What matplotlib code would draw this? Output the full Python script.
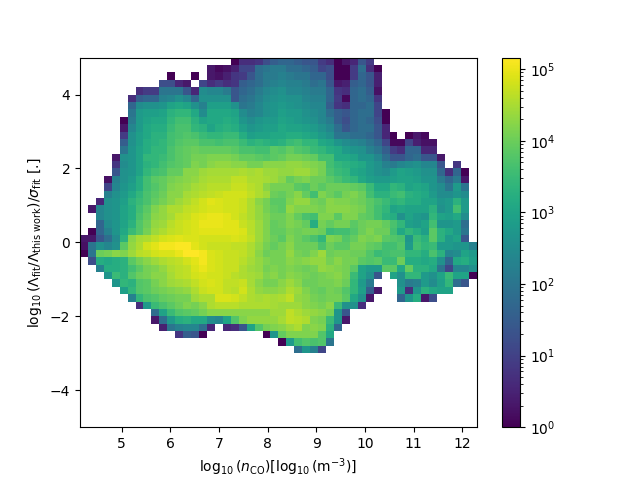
import numpy as np
import matplotlib
matplotlib.use("Agg")
import matplotlib.pyplot as plt
from matplotlib.colors import LogNorm

# Values are log10(count) in tenths; _ marks an empty bin. Rows run from the top of the plot down.
_ = -1
X_RANGE = (4.146, 12.30)
Y_RANGE = (-5.0, 5.0)
N_BINS = 50
COUNT_MAX = 1.45e5
x_ticks = [5, 6, 7, 8, 9, 10, 11, 12]
y_ticks = [-4, -2, 0, 2, 4]
# colour-reading calibration of the estimates (read level -> corrected level)
read_levels = [0, 8, 15, 20, 30, 40, 46, 52]
true_levels = [0, 9, 20, 26, 36, 44, 48, 52]

row_starts = [19,16,11,10,7,6,6,6,5,5,5,5,5,4,4,4,3,3,3,2,1,2,2,1,0,0,0,1,2,3,4,5,6,7,9,9,10,12,25,27]
row_00 = [0,6,6,7,10,12,13,13,12,11,11,8,6,0,3,5,11,8]
row_01 = [3,1,2,4,9,9,14,15,16,16,14,14,13,12,9,10,0,0,8,14,6,0]
row_02 = [0,_,_,0,_,3,2,4,7,8,11,14,16,16,17,16,15,15,13,13,10,0,0,8,13,11,4]
row_03 = [10,10,5,3,_,9,6,8,6,7,12,13,14,16,17,18,17,17,16,14,15,11,3,4,12,13,11,4]
row_04 = [6,8,8,15,15,15,11,5,19,18,18,16,11,13,14,16,18,19,20,18,18,17,16,16,13,7,6,13,14,12,2]
row_05 = [6,12,13,13,17,18,20,18,13,20,20,20,20,11,14,15,17,19,20,21,20,20,18,17,17,13,8,1,13,14,13,7]
row_06 = [13,19,20,20,21,24,25,24,20,17,23,23,23,20,15,16,18,20,21,22,21,20,19,18,18,12,7,6,13,13,14,9]
row_07 = [15,22,23,23,24,27,28,28,25,19,25,25,25,24,19,17,18,20,21,23,22,22,20,19,18,14,12,11,13,14,14,9,0]
row_08 = [0,16,22,24,25,25,28,30,30,27,24,25,25,26,25,21,19,21,22,22,24,23,22,21,20,18,16,12,10,13,14,13,10,0]
row_09 = [3,18,22,25,26,26,29,31,31,28,27,24,26,27,26,23,21,22,23,23,25,24,24,23,22,20,18,14,11,13,14,14,11,5]
row_10 = [8,20,23,25,27,27,30,31,32,31,29,28,28,29,29,26,23,24,24,25,25,26,26,25,24,22,20,15,15,14,14,13,11,5,0,_,0,3,1]
row_11 = [12,20,23,26,27,28,30,32,33,33,31,31,30,31,31,29,27,28,27,26,27,29,30,28,28,25,24,21,19,18,17,15,13,9,1,1,9,4,2,2]
row_12 = [15,21,24,26,28,28,31,33,34,35,34,34,34,34,33,31,31,30,30,33,32,34,32,31,29,28,26,25,22,21,20,17,15,12,8,6,13,13,5,5]
row_13 = [3,20,21,24,28,28,29,31,33,34,36,36,37,37,37,36,34,34,33,32,33,34,36,36,35,34,30,30,25,25,24,21,21,18,14,11,11,13,14,11,11,3]
row_14 = [7,19,21,24,27,28,30,32,33,34,37,36,38,39,39,38,38,36,36,38,38,38,39,39,38,37,36,30,28,27,26,25,22,20,17,16,18,19,20,18,18,11,_,7]
row_15 = [11,20,21,24,28,30,31,34,34,38,38,40,41,41,41,41,42,41,42,40,40,39,39,40,40,38,36,31,29,28,25,24,22,20,19,22,24,23,22,20,20,13,6,13,0]
row_16 = [2,17,20,22,26,30,33,34,36,37,38,39,41,42,42,42,44,44,42,42,41,40,38,34,36,37,35,35,33,31,29,28,25,23,22,22,23,24,24,23,21,21,16,13,16,3]
row_17 = [9,18,21,23,26,30,32,34,37,38,39,41,42,43,43,43,45,45,43,42,38,36,36,36,33,32,35,33,35,35,35,34,33,29,25,25,28,27,24,25,24,21,19,15,22,15]
row_18 = [17,20,22,25,28,31,33,35,38,38,41,42,43,44,45,46,46,46,44,42,40,35,34,36,38,34,30,37,35,33,36,37,35,30,27,27,29,30,27,26,25,22,19,19,21,19]
row_19 = [5,20,21,23,27,29,31,34,36,38,40,42,44,46,48,47,46,46,45,42,38,36,33,33,37,39,39,36,35,38,37,37,36,35,33,31,29,27,28,26,26,24,24,21,22,27,22]
row_20 = [3,18,20,21,24,26,30,33,37,39,42,42,44,45,46,47,47,46,46,45,42,39,36,34,33,39,37,37,37,36,38,38,38,37,36,33,30,28,24,25,24,24,24,27,20,22,30,22]
row_21 = [18,20,21,24,26,31,34,38,39,41,44,45,47,48,49,49,48,46,44,42,39,37,35,35,37,34,31,30,37,37,33,37,37,34,33,30,27,26,20,24,22,21,28,24,23,25,19]
row_22 = [13,19,21,24,27,32,35,39,40,43,45,46,47,49,49,49,48,48,45,43,40,37,34,35,37,36,34,26,36,34,36,36,33,35,36,36,34,31,28,23,22,24,30,21,21,22,14]
row_23 = [0,13,17,21,25,29,32,36,40,42,44,45,46,47,48,48,48,48,48,47,43,40,37,34,34,36,35,36,36,35,29,30,30,32,35,37,35,35,30,25,28,26,23,33,27,25,22,15]
row_24 = [3,3,11,14,19,27,38,41,42,44,46,47,48,47,47,46,46,46,46,47,46,44,40,37,35,33,37,35,33,31,28,37,36,32,34,37,36,37,33,32,31,21,29,27,33,27,22,24,11]
row_25 = [2,15,20,18,20,33,39,42,46,48,50,50,51,51,48,46,45,45,45,44,44,42,39,36,34,36,38,35,35,35,31,35,33,33,36,36,34,33,30,30,32,22,30,28,29,22,22,21,21,17]
row_26 = [0,15,35,36,38,37,40,43,44,46,47,47,49,52,52,50,47,46,45,45,44,42,38,35,36,36,39,36,35,37,40,35,36,36,35,35,32,29,30,31,31,28,28,26,31,27,18,19,24,22]
row_27 = [10,26,25,26,27,33,36,38,40,42,43,44,46,48,50,47,46,45,45,43,41,39,37,36,36,38,37,38,39,39,36,38,36,36,33,32,33,29,29,35,26,26,25,26,20,13,25,26,23]
row_28 = [17,26,26,27,30,33,36,37,39,42,43,44,47,49,47,46,45,45,42,40,39,36,37,36,37,36,35,36,39,38,37,36,33,24,22,22,33,33,25,34,27,27,25,15,9,18,18,20]
row_29 = [21,29,27,32,35,36,38,38,41,43,44,46,47,46,46,45,43,42,41,40,37,38,36,38,37,36,35,36,37,38,36,29,24,20,11,_,24,20,28,28,22,20,24,29,24,24,0]
row_30 = [21,28,27,32,33,36,38,40,41,42,44,46,47,46,44,44,45,41,38,36,36,38,40,38,35,35,36,36,37,35,28,22,16,_,_,_,20,16,17,22,19,23,28,14,11]
row_31 = [23,28,32,33,35,36,37,38,39,42,45,46,46,44,43,46,42,39,38,38,39,42,40,37,35,34,36,35,32,28,23,12,3,_,_,22,6,21,27,25,24,24]
row_32 = [17,28,31,32,34,35,36,36,40,42,42,47,47,46,44,42,41,42,41,42,44,39,38,36,35,36,36,33,25,20,3,_,_,_,13,21,26,3,10]
row_33 = [6,22,29,31,33,35,37,36,38,42,43,43,43,42,42,42,42,41,40,40,40,38,37,36,38,29,20,20,6]
row_34 = [14,24,29,32,33,34,36,38,38,38,38,38,38,38,38,40,40,44,42,40,39,38,36,21,11]
row_35 = [3,14,22,26,27,25,25,19,18,24,32,37,39,39,39,39,41,44,43,42,37,36,29,21,3]
row_36 = [4,15,17,18,18,14,5,_,5,6,11,24,32,36,37,38,40,42,37,38,37,27,13]
row_37 = [7,12,11,0,_,_,_,_,_,_,_,0,21,34,37,37,37,37,32,25]
row_38 = [0,22,30,32,31,32,15]
row_39 = [14,21,17,9]

rows = [row_00,row_01,row_02,row_03,row_04,row_05,row_06,row_07,row_08,row_09,
        row_10,row_11,row_12,row_13,row_14,row_15,row_16,row_17,row_18,row_19,
        row_20,row_21,row_22,row_23,row_24,row_25,row_26,row_27,row_28,row_29,
        row_30,row_31,row_32,row_33,row_34,row_35,row_36,row_37,row_38,row_39]

counts = np.full((N_BINS, N_BINS), np.nan)
for j, (start, vals) in enumerate(zip(row_starts, rows)):
    for k, v in enumerate(vals):
        if v >= 0 and start + k < N_BINS:
            level = np.interp(v, read_levels, true_levels)
            counts[N_BINS - 1 - j, start + k] = 10 ** (level / 10)

x_edges = np.linspace(X_RANGE[0], X_RANGE[1], N_BINS + 1)
y_edges = np.linspace(Y_RANGE[0], Y_RANGE[1], N_BINS + 1)

fig, ax = plt.subplots(figsize=(6.4, 4.8), dpi=100)
mesh = ax.pcolormesh(x_edges, y_edges, np.ma.masked_invalid(counts), cmap="viridis",
                     norm=LogNorm(vmin=1, vmax=COUNT_MAX))
ax.set_xticks(x_ticks)
ax.set_yticks(y_ticks)
ax.set_xlabel(r"$\log_{10}(n_{\mathrm{CO}}) [\log_{10}(\mathrm{m}^{-3})]$")
ax.set_ylabel(r"$\log_{10}(\Lambda_{\mathrm{fit}}/\Lambda_{\mathrm{this\ work}})/\sigma_{\mathrm{fit}}$ [.]")
fig.colorbar(mesh, ax=ax)
fig.savefig("out.png", dpi=100)
